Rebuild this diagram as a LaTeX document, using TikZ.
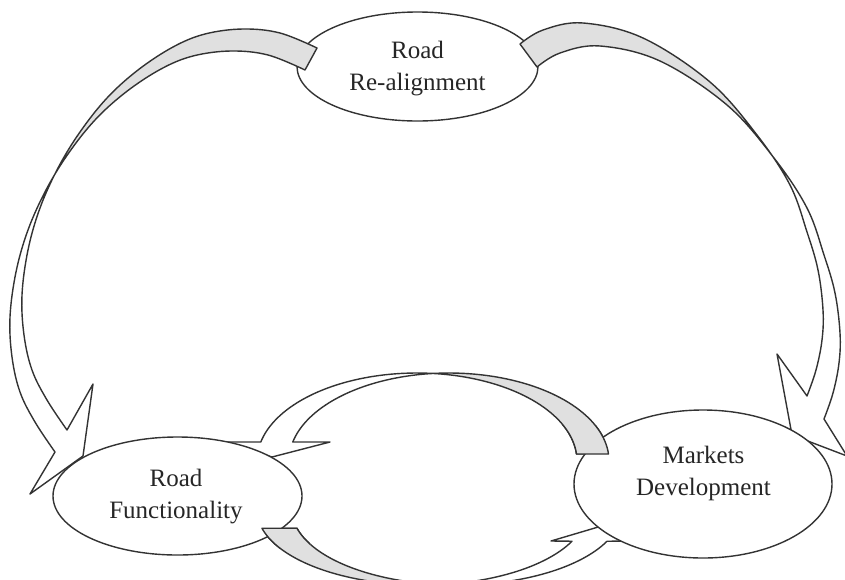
\documentclass[tikz,border=0pt]{standalone}
\usepackage{fontspec}
\setmainfont{Liberation Serif}
\usetikzlibrary{shapes.geometric}
\definecolor{linec}{HTML}{333333}
\definecolor{bandc}{HTML}{E0E0E0}
\definecolor{txtc}{HTML}{262626}
\tikzset{
  ln/.style={draw=linec, line width=1.4pt, line join=round},
  oval/.style={ellipse, draw=linec, line width=1.4pt, fill=white, inner sep=0pt},
  lbl/.style={font=\fontsize{25}{32}\selectfont, text=txtc, align=center, inner sep=0pt},
}
% arrow outlines (self-crossing loops: base lobe grey, arrow lobe white)
\newcommand\PathAone{plot[smooth, tension=0.6] coordinates {(317,48) (280,33) (243,29) (205,34) (173,47) (138,70) (107,98) (80,132) (58,168) (40,208) (28,250) (22,295) (24,335) (32,370) (47,400) (67,430)} -- (93,384) -- (83,456) -- (30,494) -- (55,452) -- plot[smooth, tension=0.6] coordinates {(55,452) (35,422) (20,392) (12,357) (10,317) (16,272) (28,230) (46,190) (68,154) (95,120) (126,92) (161,69) (193,56) (231,51) (268,55) (305,70)} -- cycle}
\newcommand\PathAtwo{plot[smooth, tension=0.6] coordinates {(520,44) (543,30) (583,23) (643,38) (710,82) (757,135) (790,185) (807,232) (818,270) (823,310) (822,340) (816,370) (807,396)} -- (777,354) -- (792,435) -- (847,456) -- (824,419) -- plot[smooth, tension=0.6] coordinates {(824,419) (833,393) (839,363) (840,333) (835,293) (824,255) (807,208) (774,158) (727,105) (660,61) (600,46) (560,53) (537,67)} -- cycle}
\newcommand\PathAthree{plot[domain=4.56:167.53, samples=80] ({417+160*cos(\x)},{461-88*sin(\x)}) -- (222,442) -- (272,457) -- (330,442) -- plot[domain=167.53:4.56, samples=80] ({449+160*cos(\x)},{461-88*sin(\x)}) -- cycle}
\newcommand\PathAfour{plot[domain=165.9:24.6, samples=80] ({422+165*cos(\x)},{510+75*sin(\x)}) -- (551,541) -- (605,525) -- (641,541) -- plot[domain=24.6:165.9, samples=80] ({457+165*cos(\x)},{510+75*sin(\x)}) -- cycle}
\begin{document}
\begin{tikzpicture}[x=1pt,y=-1pt]
\useasboundingbox[fill=white] (0,0) rectangle (845,579);

% top ellipse first (arrow bases lie over it)
\node[oval, minimum width=241pt, minimum height=109pt] (RA) at (417.5,66.5) {};

% arrow 1: Road Re-alignment -> Road Functionality
\fill[white] \PathAone;
\begin{scope}
  \clip (940,639) -- (-816,-319) -- (-337,-1197) -- (1419,-239) -- cycle;
  \fill[bandc] \PathAone;
\end{scope}
\draw[ln] \PathAone;

% arrow 2: Road Re-alignment -> Markets Development
\fill[white] \PathAtwo;
\begin{scope}
  \clip (1566,-452) -- (-42,736) -- (-636,-68) -- (972,-1256) -- cycle;
  \fill[bandc] \PathAtwo;
\end{scope}
\draw[ln] \PathAtwo;

% arrow 3: Markets Development -> Road Functionality (upper)
\fill[white] \PathAthree;
\begin{scope}
  \clip (433,300) rectangle (700,470);
  \fill[bandc] \PathAthree;
\end{scope}
\draw[ln] \PathAthree;

% arrow 4: Road Functionality -> Markets Development (lower)
\fill[white] \PathAfour;
\begin{scope}
  \clip (200,480) rectangle (439.5,620);
  \fill[bandc] \PathAfour;
\end{scope}
\draw[ln] \PathAfour;

% lower ellipses (cover the arrow tips)
\node[oval, minimum width=249pt, minimum height=118pt] (RF) at (177.5,496) {};
\node[oval, minimum width=258pt, minimum height=148pt] (MD) at (703,484) {};

% arrow bases lie over the ellipses they leave
\begin{scope}
  \clip (560,425) rectangle (620,462);
  \fill[bandc] \PathAthree;
  \draw[ln] \PathAthree;
\end{scope}
\begin{scope}
  \clip (250,515) rectangle (310,548);
  \fill[bandc] \PathAfour;
  \draw[ln] \PathAfour;
\end{scope}

% labels
\node[lbl] (RAt) at (RA.center) [yshift=-2.5pt] {Road\\Re-alignment};
\node[lbl] (RFt) at (176,496.5) {Road\\Functionality};
\node[lbl] (MDt) at (703.5,473) {Markets\\Development};
\end{tikzpicture}
\end{document}
